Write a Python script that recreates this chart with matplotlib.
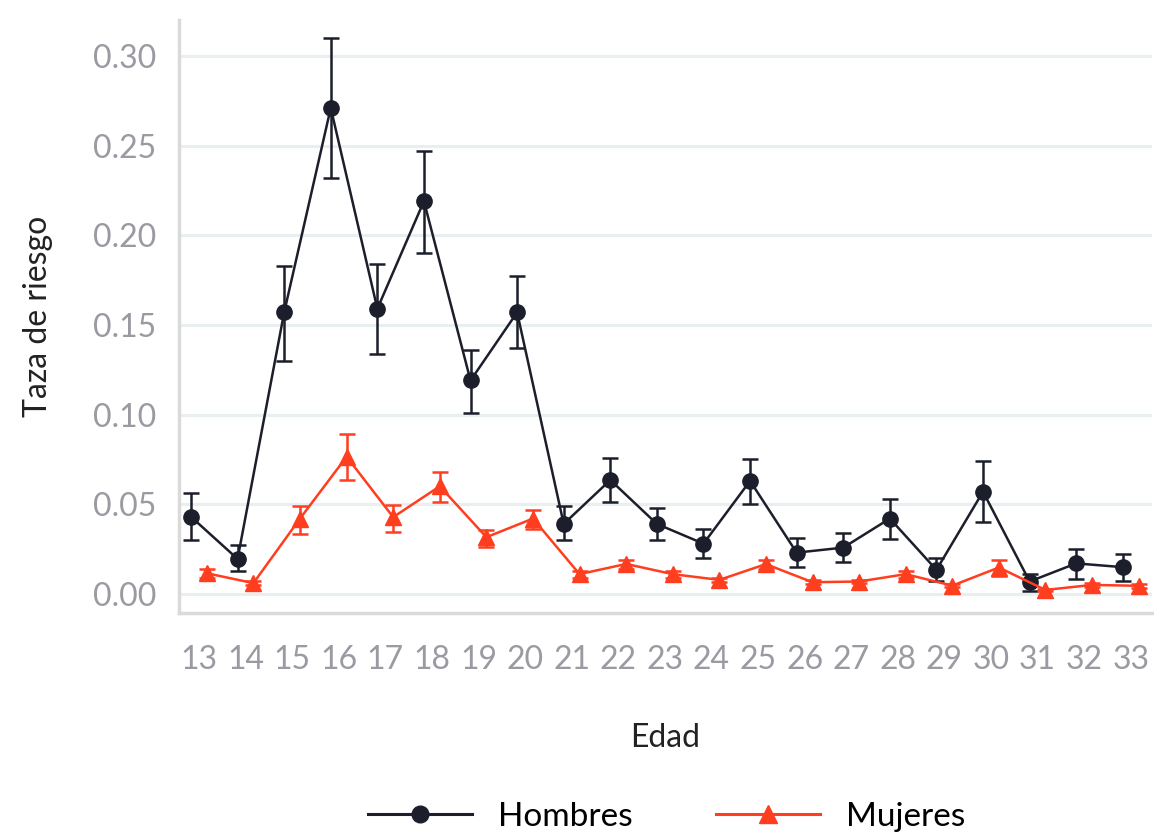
import numpy as np
import matplotlib
matplotlib.use("Agg")
import matplotlib.pyplot as plt
from matplotlib.lines import Line2D

plt.rcParams['font.family'] = ['Lato', 'DejaVu Sans']

# --- datos ---
edad = list(range(13, 34))

hombres = [0.043, 0.0195, 0.157, 0.271, 0.159, 0.219, 0.119, 0.157, 0.039, 0.0635,
           0.039, 0.028, 0.063, 0.023, 0.0258, 0.042, 0.0134, 0.057, 0.0069, 0.017, 0.0149]
hombres_sup = [0.056, 0.027, 0.183, 0.310, 0.184, 0.247, 0.136, 0.177, 0.049, 0.076,
               0.048, 0.036, 0.075, 0.031, 0.034, 0.053, 0.020, 0.074, 0.011, 0.025, 0.0225]
hombres_inf = [0.030, 0.013, 0.130, 0.232, 0.134, 0.190, 0.101, 0.137, 0.030, 0.051,
               0.030, 0.020, 0.050, 0.015, 0.0175, 0.0305, 0.007, 0.040, 0.0017, 0.0084, 0.007]

mujeres = [0.0115, 0.006, 0.042, 0.0765, 0.0428, 0.060, 0.0316, 0.042, 0.011, 0.0167,
           0.011, 0.0078, 0.0166, 0.0065, 0.0069, 0.011, 0.0046, 0.0147, 0.0022, 0.005, 0.0045]
mujeres_sup = [0.014, 0.007, 0.049, 0.089, 0.0494, 0.068, 0.0357, 0.047, 0.013, 0.019,
               0.013, 0.009, 0.019, 0.0075, 0.008, 0.013, 0.0055, 0.019, 0.003, 0.006, 0.0055]
mujeres_inf = [0.009, 0.005, 0.0335, 0.0635, 0.0347, 0.051, 0.026, 0.036, 0.009, 0.014,
               0.009, 0.0066, 0.014, 0.0055, 0.006, 0.009, 0.0037, 0.010, 0.0014, 0.004, 0.0035]

col_h = '#1c1f2b'
col_m = '#ff3d1f'
gris = '#9a9aa2'
dodge = 0.17

x = np.array(edad, dtype=float)
h = np.array(hombres)
m = np.array(mujeres)

fig = plt.figure(figsize=(11.54, 8.35), dpi=100)
ax = fig.add_axes([0.155, 0.266, 0.843, 0.710])

# grid horizontal
ax.set_axisbelow(True)
ax.yaxis.grid(True, color='#e8eff1', linewidth=2.2)
ax.xaxis.grid(False)

ax.errorbar(x - dodge, h, yerr=[h - np.array(hombres_inf), np.array(hombres_sup) - h],
            color=col_h, marker='o', markersize=11, linewidth=1.8,
            elinewidth=1.8, capsize=5.5, capthick=1.8, zorder=3)
ax.errorbar(x + dodge, m, yerr=[m - np.array(mujeres_inf), np.array(mujeres_sup) - m],
            color=col_m, marker='^', markersize=12, linewidth=1.8,
            elinewidth=1.8, capsize=5.5, capthick=1.8, zorder=3)

ax.set_xlim(12.57, 33.45)
ax.set_ylim(-0.0106, 0.32)
ax.set_xticks(edad)
ax.set_xticklabels([str(e) for e in edad])
ax.set_yticks([0, 0.05, 0.10, 0.15, 0.20, 0.25, 0.30])
ax.set_yticklabels(['0.00', '0.05', '0.10', '0.15', '0.20', '0.25', '0.30'])
ax.tick_params(axis='both', length=0, labelsize=23, labelcolor=gris)
ax.tick_params(axis='x', pad=23)
ax.tick_params(axis='y', pad=16)

for s in ['top', 'right']:
    ax.spines[s].set_visible(False)
for s in ['left', 'bottom']:
    ax.spines[s].set_color('#dadada')
    ax.spines[s].set_linewidth(2.5)

ax.set_xlabel('Edad', fontsize=23, color='#222222', labelpad=35)
ax.set_ylabel('Taza de riesgo', fontsize=23, color='#222222', labelpad=29)

# leyenda sin barras de error
handles = [Line2D([], [], color=col_h, marker='o', markersize=12, linewidth=2.2),
           Line2D([], [], color=col_m, marker='^', markersize=13, linewidth=2.2)]
fig.legend(handles, ['Hombres', 'Mujeres'], loc='center', bbox_to_anchor=(0.578, 0.022),
           ncol=2, frameon=False, fontsize=24, handlelength=3.1, columnspacing=2.5,
           handletextpad=0.8)

fig.savefig('out.png', dpi=100)
